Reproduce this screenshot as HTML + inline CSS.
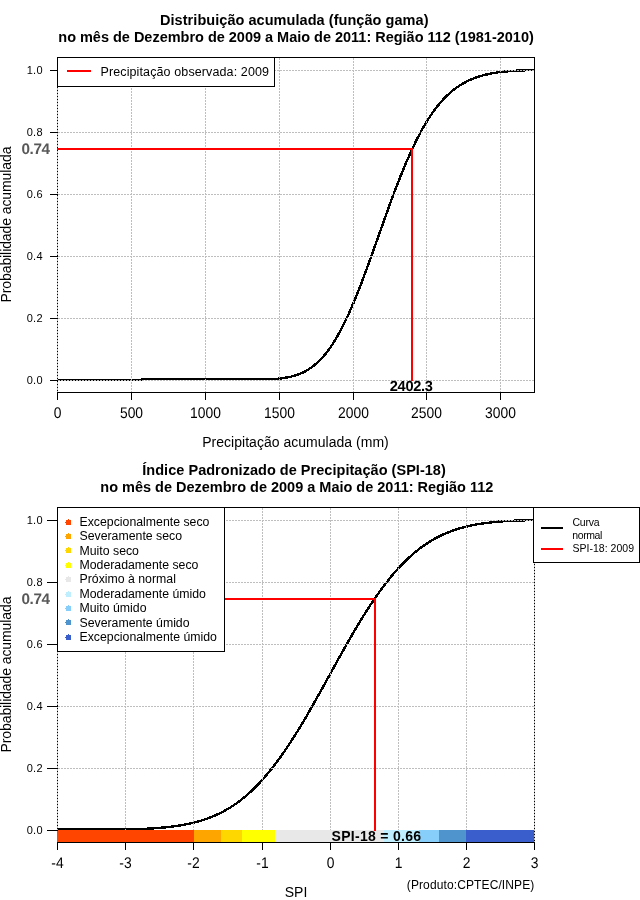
<!DOCTYPE html>
<html lang="pt-BR">
<head>
<meta charset="utf-8">
<title>SPI-18</title>
<style>
html,body{margin:0;padding:0;background:#fff;}
body{width:640px;height:900px;overflow:hidden;}
svg{display:block;}
svg text{font-family:"Liberation Sans",sans-serif;}
</style>
</head>
<body>
<svg width="640" height="900" viewBox="0 0 640 900" shape-rendering="crispEdges">
<rect x="0" y="0" width="640" height="900" fill="#fff"/>
<rect x="57.5" y="57.5" width="477" height="335" fill="none" stroke="#000" stroke-width="1"/>
<polyline points="57.2,379.8 58.4,379.8 59.6,379.8 60.8,379.8 62.0,379.8 63.2,379.8 64.4,379.8 65.6,379.8 66.8,379.8 68.0,379.8 69.2,379.8 70.4,379.8 71.5,379.8 72.7,379.8 73.9,379.8 75.1,379.8 76.3,379.8 77.5,379.8 78.7,379.8 79.9,379.8 81.1,379.8 82.3,379.8 83.5,379.8 84.7,379.8 85.9,379.8 87.1,379.8 88.3,379.8 89.5,379.8 90.7,379.8 91.9,379.8 93.1,379.8 94.3,379.8 95.5,379.8 96.7,379.8 97.8,379.8 99.0,379.8 100.2,379.8 101.4,379.8 102.6,379.8 103.8,379.8 105.0,379.8 106.2,379.8 107.4,379.8 108.6,379.8 109.8,379.8 111.0,379.8 112.2,379.8 113.4,379.8 114.6,379.8 115.8,379.8 117.0,379.8 118.2,379.8 119.4,379.8 120.6,379.8 121.8,379.8 123.0,379.8 124.1,379.8 125.3,379.8 126.5,379.8 127.7,379.8 128.9,379.8 130.1,379.8 131.3,379.8 132.5,379.8 133.7,379.8 134.9,379.8 136.1,379.8 137.3,379.8 138.5,379.8 139.7,379.8 140.9,379.8 142.1,379.0 143.3,379.0 144.5,379.0 145.7,379.0 146.9,379.0 148.1,379.0 149.3,379.0 150.4,379.0 151.6,379.0 152.8,379.0 154.0,379.0 155.2,379.0 156.4,379.0 157.6,379.0 158.8,379.0 160.0,379.0 161.2,379.0 162.4,379.0 163.6,379.0 164.8,379.0 166.0,379.0 167.2,379.0 168.4,379.0 169.6,379.0 170.8,379.0 172.0,379.0 173.2,379.0 174.4,379.0 175.6,379.0 176.7,379.0 177.9,379.0 179.1,379.0 180.3,379.0 181.5,379.0 182.7,379.0 183.9,379.0 185.1,379.0 186.3,379.0 187.5,379.0 188.7,379.0 189.9,379.0 191.1,379.0 192.3,379.0 193.5,379.0 194.7,379.0 195.9,379.0 197.1,379.0 198.3,379.0 199.5,379.0 200.7,379.0 201.9,379.0 203.0,379.0 204.2,379.0 205.4,379.0 206.6,379.0 207.8,379.0 209.0,379.0 210.2,379.0 211.4,379.0 212.6,379.0 213.8,379.0 215.0,379.0 216.2,379.0 217.4,379.0 218.6,379.0 219.8,379.0 221.0,379.0 222.2,379.0 223.4,379.0 224.6,379.0 225.8,379.0 227.0,379.0 228.2,379.0 229.4,379.0 230.5,379.0 231.7,379.0 232.9,379.0 234.1,379.0 235.3,379.0 236.5,379.0 237.7,379.0 238.9,379.0 240.1,379.0 241.3,379.0 242.5,379.0 243.7,379.0 244.9,379.0 246.1,379.0 247.3,379.0 248.5,379.0 249.7,379.0 250.9,379.0 252.1,379.0 253.3,379.0 254.5,379.0 255.7,379.0 256.8,379.0 258.0,379.0 259.2,379.0 260.4,379.0 261.6,379.0 262.8,379.0 264.0,379.0 265.2,379.0 266.4,379.0 267.6,379.0 268.8,379.0 270.0,379.0 271.2,379.0 272.4,379.0 273.6,379.0 274.8,379.0 276.0,378.9 277.2,378.8 278.4,378.7 279.6,378.5 280.8,378.4 282.0,378.3 283.1,378.1 284.3,377.9 285.5,377.7 286.7,377.5 287.9,377.3 289.1,377.0 290.3,376.8 291.5,376.5 292.7,376.2 293.9,375.8 295.1,375.5 296.3,375.1 297.5,374.7 298.7,374.3 299.9,373.8 301.1,373.3 302.3,372.8 303.5,372.2 304.7,371.6 305.9,370.9 307.1,370.3 308.3,369.5 309.4,368.8 310.6,368.0 311.8,367.1 313.0,366.2 314.2,365.3 315.4,364.3 316.6,363.3 317.8,362.2 319.0,361.0 320.2,359.8 321.4,358.6 322.6,357.3 323.8,355.9 325.0,354.5 326.2,353.0 327.4,351.5 328.6,349.9 329.8,348.2 331.0,346.5 332.2,344.7 333.4,342.9 334.6,340.9 335.7,339.0 336.9,337.0 338.1,334.9 339.3,332.7 340.5,330.5 341.7,328.2 342.9,325.9 344.1,323.5 345.3,321.1 346.5,318.6 347.7,316.0 348.9,313.4 350.1,310.7 351.3,308.0 352.5,305.2 353.7,302.4 354.9,299.5 356.1,296.6 357.3,293.6 358.5,290.6 359.7,287.6 360.9,284.5 362.0,281.4 363.2,278.2 364.4,275.0 365.6,271.8 366.8,268.6 368.0,265.3 369.2,262.0 370.4,258.7 371.6,255.4 372.8,252.1 374.0,248.7 375.2,245.3 376.4,242.0 377.6,238.6 378.8,235.2 380.0,231.8 381.2,228.5 382.4,225.1 383.6,221.7 384.8,218.4 386.0,215.1 387.2,211.7 388.4,208.4 389.5,205.1 390.7,201.9 391.9,198.6 393.1,195.4 394.3,192.2 395.5,189.1 396.7,186.0 397.9,182.9 399.1,179.8 400.3,176.8 401.5,173.8 402.7,170.9 403.9,168.0 405.1,165.1 406.3,162.3 407.5,159.5 408.7,156.8 409.9,154.1 411.1,151.5 412.3,148.9 413.5,146.4 414.7,143.9 415.8,141.5 417.0,139.1 418.2,136.8 419.4,134.5 420.6,132.2 421.8,130.1 423.0,127.9 424.2,125.9 425.4,123.8 426.6,121.9 427.8,119.9 429.0,118.1 430.2,116.2 431.4,114.5 432.6,112.7 433.8,111.1 435.0,109.4 436.2,107.9 437.4,106.3 438.6,104.8 439.8,103.4 441.0,102.0 442.1,100.7 443.3,99.4 444.5,98.1 445.7,96.9 446.9,95.7 448.1,94.6 449.3,93.5 450.5,92.4 451.7,91.4 452.9,90.4 454.1,89.5 455.3,88.6 456.5,87.7 457.7,86.9 458.9,86.1 460.1,85.3 461.3,84.5 462.5,83.8 463.7,83.1 464.9,82.5 466.1,81.8 467.3,81.2 468.4,80.7 469.6,80.1 470.8,79.6 472.0,79.1 473.2,78.6 474.4,78.1 475.6,77.7 476.8,77.3 478.0,76.9 479.2,76.5 480.4,76.1 481.6,75.8 482.8,75.4 484.0,75.1 485.2,74.8 486.4,74.5 487.6,74.3 488.8,74.0 490.0,73.7 491.2,73.5 492.4,73.3 493.6,73.1 494.7,72.9 495.9,72.7 497.1,72.5 498.3,72.3 499.5,72.2 500.7,72.0 501.9,71.9 503.1,71.8 504.3,71.6 505.5,71.5 506.7,71.4 507.9,71.3 509.1,71.2 510.3,71.1 511.5,71.0 512.7,70.9 513.9,70.8 515.1,70.8 516.3,70.7 517.5,70.6 518.7,70.5 519.9,70.5 521.0,70.4 522.2,70.4 523.4,70.3 524.6,70.3 525.8,70.2 527.0,70.2 528.2,70.2 529.4,70.1 530.6,70.1 531.8,70.1 533.0,70.0 534.2,70.0" fill="none" stroke="#000" stroke-width="2.4" stroke-linejoin="round"/>
<line x1="57.5" y1="58" x2="57.5" y2="392" stroke="#bebebe" stroke-width="1" stroke-dasharray="2 1"/>
<line x1="131.5" y1="58" x2="131.5" y2="392" stroke="#bebebe" stroke-width="1" stroke-dasharray="2 1"/>
<line x1="205.5" y1="58" x2="205.5" y2="392" stroke="#bebebe" stroke-width="1" stroke-dasharray="2 1"/>
<line x1="279.5" y1="58" x2="279.5" y2="392" stroke="#bebebe" stroke-width="1" stroke-dasharray="2 1"/>
<line x1="353.5" y1="58" x2="353.5" y2="392" stroke="#bebebe" stroke-width="1" stroke-dasharray="2 1"/>
<line x1="426.5" y1="58" x2="426.5" y2="392" stroke="#bebebe" stroke-width="1" stroke-dasharray="2 1"/>
<line x1="500.5" y1="58" x2="500.5" y2="392" stroke="#bebebe" stroke-width="1" stroke-dasharray="2 1"/>
<line x1="58" y1="380.5" x2="534" y2="380.5" stroke="#bebebe" stroke-width="1" stroke-dasharray="2 1"/>
<line x1="58" y1="318.5" x2="534" y2="318.5" stroke="#bebebe" stroke-width="1" stroke-dasharray="2 1"/>
<line x1="58" y1="256.5" x2="534" y2="256.5" stroke="#bebebe" stroke-width="1" stroke-dasharray="2 1"/>
<line x1="58" y1="194.5" x2="534" y2="194.5" stroke="#bebebe" stroke-width="1" stroke-dasharray="2 1"/>
<line x1="58" y1="132.5" x2="534" y2="132.5" stroke="#bebebe" stroke-width="1" stroke-dasharray="2 1"/>
<line x1="58" y1="70.5" x2="534" y2="70.5" stroke="#bebebe" stroke-width="1" stroke-dasharray="2 1"/>
<rect x="57" y="148" width="356" height="2" fill="#ff0000"/>
<rect x="411" y="148" width="2" height="233" fill="#ff0000"/>
<rect x="57.5" y="57.5" width="217" height="29" fill="#fff" stroke="#000" stroke-width="1"/>
<rect x="67" y="70" width="24" height="2" fill="#ff0000"/>
<text x="100.5" y="76" font-size="12.5" text-anchor="start" fill="#000" textLength="168.5" lengthAdjust="spacing">Precipitação observada: 2009</text>
<rect x="57" y="392" width="1" height="8" fill="#000"/>
<text transform="translate(57.5,418) scale(0.9,1)" font-size="15.4" text-anchor="middle" fill="#000" text-rendering="geometricPrecision">0</text>
<rect x="131" y="392" width="1" height="8" fill="#000"/>
<text transform="translate(131.5,418) scale(0.9,1)" font-size="15.4" text-anchor="middle" fill="#000" text-rendering="geometricPrecision">500</text>
<rect x="205" y="392" width="1" height="8" fill="#000"/>
<text transform="translate(205.5,418) scale(0.9,1)" font-size="15.4" text-anchor="middle" fill="#000" text-rendering="geometricPrecision">1000</text>
<rect x="279" y="392" width="1" height="8" fill="#000"/>
<text transform="translate(279.5,418) scale(0.9,1)" font-size="15.4" text-anchor="middle" fill="#000" text-rendering="geometricPrecision">1500</text>
<rect x="353" y="392" width="1" height="8" fill="#000"/>
<text transform="translate(353.5,418) scale(0.9,1)" font-size="15.4" text-anchor="middle" fill="#000" text-rendering="geometricPrecision">2000</text>
<rect x="426" y="392" width="1" height="8" fill="#000"/>
<text transform="translate(426.5,418) scale(0.9,1)" font-size="15.4" text-anchor="middle" fill="#000" text-rendering="geometricPrecision">2500</text>
<rect x="500" y="392" width="1" height="8" fill="#000"/>
<text transform="translate(500.5,418) scale(0.9,1)" font-size="15.4" text-anchor="middle" fill="#000" text-rendering="geometricPrecision">3000</text>
<rect x="50" y="380" width="8" height="1" fill="#000"/>
<text x="42.5" y="383.7" font-size="11" text-anchor="end" fill="#000" textLength="15.7" lengthAdjust="spacing">0.0</text>
<rect x="50" y="318" width="8" height="1" fill="#000"/>
<text x="42.5" y="321.7" font-size="11" text-anchor="end" fill="#000" textLength="15.7" lengthAdjust="spacing">0.2</text>
<rect x="50" y="256" width="8" height="1" fill="#000"/>
<text x="42.5" y="259.7" font-size="11" text-anchor="end" fill="#000" textLength="15.7" lengthAdjust="spacing">0.4</text>
<rect x="50" y="194" width="8" height="1" fill="#000"/>
<text x="42.5" y="197.7" font-size="11" text-anchor="end" fill="#000" textLength="15.7" lengthAdjust="spacing">0.6</text>
<rect x="50" y="132" width="8" height="1" fill="#000"/>
<text x="42.5" y="135.7" font-size="11" text-anchor="end" fill="#000" textLength="15.7" lengthAdjust="spacing">0.8</text>
<rect x="50" y="70" width="8" height="1" fill="#000"/>
<text x="42.5" y="73.7" font-size="11" text-anchor="end" fill="#000" textLength="15.7" lengthAdjust="spacing">1.0</text>
<text x="50" y="154" font-size="15.3" text-anchor="end" font-weight="bold" fill="#585858" textLength="28.5" lengthAdjust="spacing" text-rendering="geometricPrecision">0.74</text>
<text x="411.3" y="391" font-size="14.6" text-anchor="middle" font-weight="bold" fill="#000" textLength="43" lengthAdjust="spacing" text-rendering="geometricPrecision">2402.3</text>
<text x="160" y="24.5" font-size="14.5" text-anchor="start" font-weight="bold" fill="#000" textLength="268.5" lengthAdjust="spacing">Distribuição acumulada (função gama)</text>
<text x="58.3" y="41.5" font-size="14.5" text-anchor="start" font-weight="bold" fill="#000" textLength="475.5" lengthAdjust="spacing">no mês de Dezembro de 2009 a Maio de 2011: Região 112 (1981-2010)</text>
<text x="295.5" y="447" font-size="14" text-anchor="middle" fill="#000" textLength="186.5" lengthAdjust="spacing">Precipitação acumulada (mm)</text>
<text transform="translate(11,224.5) rotate(-90)" font-size="14" text-anchor="middle" textLength="156" lengthAdjust="spacing">Probabilidade acumulada</text>
<rect x="57.5" y="507.5" width="477" height="335" fill="none" stroke="#000" stroke-width="1"/>
<polyline points="57.2,829.0 58.4,829.0 59.6,829.0 60.8,829.0 62.0,829.0 63.2,829.0 64.4,829.0 65.6,829.0 66.8,829.0 68.0,829.0 69.2,829.0 70.4,829.0 71.5,829.0 72.7,829.0 73.9,829.0 75.1,829.0 76.3,829.0 77.5,829.0 78.7,829.0 79.9,829.0 81.1,829.0 82.3,829.0 83.5,829.0 84.7,829.0 85.9,829.0 87.1,829.0 88.3,829.0 89.5,829.0 90.7,829.0 91.9,829.0 93.1,829.0 94.3,829.0 95.5,829.0 96.7,829.0 97.8,829.0 99.0,829.0 100.2,829.0 101.4,829.0 102.6,829.0 103.8,829.0 105.0,829.0 106.2,829.0 107.4,829.0 108.6,829.0 109.8,829.0 111.0,829.0 112.2,829.0 113.4,829.0 114.6,829.0 115.8,829.0 117.0,829.0 118.2,829.0 119.4,829.0 120.6,829.0 121.8,829.0 123.0,829.0 124.1,829.0 125.3,829.0 126.5,829.0 127.7,829.0 128.9,829.0 130.1,829.0 131.3,829.0 132.5,829.0 133.7,829.0 134.9,829.0 136.1,829.0 137.3,829.0 138.5,829.0 139.7,829.0 140.9,828.9 142.1,828.9 143.3,828.8 144.5,828.8 145.7,828.7 146.9,828.7 148.1,828.6 149.3,828.5 150.4,828.5 151.6,828.4 152.8,828.3 154.0,828.3 155.2,828.2 156.4,828.1 157.6,828.0 158.8,827.9 160.0,827.8 161.2,827.7 162.4,827.6 163.6,827.5 164.8,827.4 166.0,827.3 167.2,827.2 168.4,827.0 169.6,826.9 170.8,826.8 172.0,826.6 173.2,826.5 174.4,826.3 175.6,826.1 176.7,826.0 177.9,825.8 179.1,825.6 180.3,825.4 181.5,825.2 182.7,825.0 183.9,824.8 185.1,824.6 186.3,824.3 187.5,824.1 188.7,823.8 189.9,823.6 191.1,823.3 192.3,823.0 193.5,822.7 194.7,822.4 195.9,822.1 197.1,821.8 198.3,821.5 199.5,821.1 200.7,820.8 201.9,820.4 203.0,820.0 204.2,819.6 205.4,819.2 206.6,818.8 207.8,818.4 209.0,817.9 210.2,817.5 211.4,817.0 212.6,816.5 213.8,816.0 215.0,815.5 216.2,815.0 217.4,814.4 218.6,813.9 219.8,813.3 221.0,812.7 222.2,812.1 223.4,811.4 224.6,810.8 225.8,810.1 227.0,809.4 228.2,808.7 229.4,808.0 230.5,807.3 231.7,806.5 232.9,805.7 234.1,804.9 235.3,804.1 236.5,803.3 237.7,802.4 238.9,801.5 240.1,800.6 241.3,799.7 242.5,798.7 243.7,797.8 244.9,796.8 246.1,795.8 247.3,794.7 248.5,793.7 249.7,792.6 250.9,791.5 252.1,790.4 253.3,789.2 254.5,788.1 255.7,786.9 256.8,785.7 258.0,784.4 259.2,783.2 260.4,781.9 261.6,780.6 262.8,779.3 264.0,777.9 265.2,776.5 266.4,775.1 267.6,773.7 268.8,772.3 270.0,770.8 271.2,769.3 272.4,767.8 273.6,766.3 274.8,764.7 276.0,763.1 277.2,761.5 278.4,759.9 279.6,758.3 280.8,756.6 282.0,754.9 283.1,753.2 284.3,751.5 285.5,749.7 286.7,748.0 287.9,746.2 289.1,744.4 290.3,742.5 291.5,740.7 292.7,738.8 293.9,736.9 295.1,735.1 296.3,733.1 297.5,731.2 298.7,729.3 299.9,727.3 301.1,725.3 302.3,723.3 303.5,721.3 304.7,719.3 305.9,717.3 307.1,715.2 308.3,713.1 309.4,711.1 310.6,709.0 311.8,706.9 313.0,704.8 314.2,702.7 315.4,700.6 316.6,698.4 317.8,696.3 319.0,694.2 320.2,692.0 321.4,689.9 322.6,687.7 323.8,685.5 325.0,683.4 326.2,681.2 327.4,679.0 328.6,676.9 329.8,674.7 331.0,672.5 332.2,670.4 333.4,668.2 334.6,666.0 335.7,663.9 336.9,661.7 338.1,659.5 339.3,657.4 340.5,655.2 341.7,653.1 342.9,651.0 344.1,648.8 345.3,646.7 346.5,644.6 347.7,642.5 348.9,640.4 350.1,638.3 351.3,636.3 352.5,634.2 353.7,632.2 354.9,630.1 356.1,628.1 357.3,626.1 358.5,624.1 359.7,622.1 360.9,620.2 362.0,618.2 363.2,616.3 364.4,614.4 365.6,612.5 366.8,610.6 368.0,608.7 369.2,606.9 370.4,605.0 371.6,603.2 372.8,601.4 374.0,599.7 375.2,597.9 376.4,596.2 377.6,594.5 378.8,592.8 380.0,591.1 381.2,589.5 382.4,587.9 383.6,586.3 384.8,584.7 386.0,583.1 387.2,581.6 388.4,580.1 389.5,578.6 390.7,577.1 391.9,575.7 393.1,574.3 394.3,572.9 395.5,571.5 396.7,570.2 397.9,568.8 399.1,567.5 400.3,566.2 401.5,565.0 402.7,563.7 403.9,562.5 405.1,561.3 406.3,560.2 407.5,559.0 408.7,557.9 409.9,556.8 411.1,555.7 412.3,554.7 413.5,553.6 414.7,552.6 415.8,551.6 417.0,550.7 418.2,549.7 419.4,548.8 420.6,547.9 421.8,547.0 423.0,546.2 424.2,545.3 425.4,544.5 426.6,543.7 427.8,542.9 429.0,542.2 430.2,541.4 431.4,540.7 432.6,540.0 433.8,539.3 435.0,538.6 436.2,538.0 437.4,537.3 438.6,536.7 439.8,536.1 441.0,535.5 442.1,535.0 443.3,534.4 444.5,533.9 445.7,533.4 446.9,532.9 448.1,532.4 449.3,531.9 450.5,531.5 451.7,531.0 452.9,530.6 454.1,530.2 455.3,529.8 456.5,529.4 457.7,529.0 458.9,528.6 460.1,528.3 461.3,527.9 462.5,527.6 463.7,527.3 464.9,527.0 466.1,526.7 467.3,526.4 468.4,526.1 469.6,525.8 470.8,525.6 472.0,525.3 473.2,525.1 474.4,524.8 475.6,524.6 476.8,524.4 478.0,524.2 479.2,524.0 480.4,523.8 481.6,523.6 482.8,523.4 484.0,523.3 485.2,523.1 486.4,523.0 487.6,522.8 488.8,522.7 490.0,522.5 491.2,522.4 492.4,522.3 493.6,522.1 494.7,522.0 495.9,521.9 497.1,521.8 498.3,521.7 499.5,521.6 500.7,521.5 501.9,521.4 503.1,521.3 504.3,521.2 505.5,521.1 506.7,521.1 507.9,521.0 509.1,520.9 510.3,520.9 511.5,520.8 512.7,520.7 513.9,520.7 515.1,520.6 516.3,520.6 517.5,520.5 518.7,520.5 519.9,520.4 521.0,520.4 522.2,520.3 523.4,520.3 524.6,520.3 525.8,520.2 527.0,520.2 528.2,520.2 529.4,520.1 530.6,520.1 531.8,520.1 533.0,520.1 534.2,520.0" fill="none" stroke="#000" stroke-width="2.4" stroke-linejoin="round"/>
<line x1="57.5" y1="508" x2="57.5" y2="842" stroke="#bebebe" stroke-width="1" stroke-dasharray="2 1"/>
<line x1="125.5" y1="508" x2="125.5" y2="842" stroke="#bebebe" stroke-width="1" stroke-dasharray="2 1"/>
<line x1="193.5" y1="508" x2="193.5" y2="842" stroke="#bebebe" stroke-width="1" stroke-dasharray="2 1"/>
<line x1="262.5" y1="508" x2="262.5" y2="842" stroke="#bebebe" stroke-width="1" stroke-dasharray="2 1"/>
<line x1="330.5" y1="508" x2="330.5" y2="842" stroke="#bebebe" stroke-width="1" stroke-dasharray="2 1"/>
<line x1="398.5" y1="508" x2="398.5" y2="842" stroke="#bebebe" stroke-width="1" stroke-dasharray="2 1"/>
<line x1="466.5" y1="508" x2="466.5" y2="842" stroke="#bebebe" stroke-width="1" stroke-dasharray="2 1"/>
<line x1="534.5" y1="508" x2="534.5" y2="842" stroke="#bebebe" stroke-width="1" stroke-dasharray="2 1"/>
<line x1="58" y1="830.5" x2="534" y2="830.5" stroke="#bebebe" stroke-width="1" stroke-dasharray="2 1"/>
<line x1="58" y1="768.5" x2="534" y2="768.5" stroke="#bebebe" stroke-width="1" stroke-dasharray="2 1"/>
<line x1="58" y1="706.5" x2="534" y2="706.5" stroke="#bebebe" stroke-width="1" stroke-dasharray="2 1"/>
<line x1="58" y1="644.5" x2="534" y2="644.5" stroke="#bebebe" stroke-width="1" stroke-dasharray="2 1"/>
<line x1="58" y1="582.5" x2="534" y2="582.5" stroke="#bebebe" stroke-width="1" stroke-dasharray="2 1"/>
<line x1="58" y1="520.5" x2="534" y2="520.5" stroke="#bebebe" stroke-width="1" stroke-dasharray="2 1"/>
<rect x="57" y="830" width="137" height="12" fill="#ff4500"/>
<rect x="194" y="830" width="27" height="12" fill="#ffa500"/>
<rect x="221" y="830" width="21" height="12" fill="#ffd700"/>
<rect x="242" y="830" width="33" height="12" fill="#ffff00"/>
<rect x="275" y="830" width="109" height="12" fill="#e8e8e8"/>
<rect x="384" y="830" width="35" height="12" fill="#bfefff"/>
<rect x="419" y="830" width="20" height="12" fill="#87cefa"/>
<rect x="439" y="830" width="27" height="12" fill="#4f94cd"/>
<rect x="466" y="830" width="68" height="12" fill="#3a5fcd"/>
<rect x="57" y="842" width="478" height="1" fill="#000"/>
<rect x="57" y="598" width="319" height="2" fill="#ff0000"/>
<rect x="374" y="598" width="2" height="233" fill="#ff0000"/>
<rect x="57.5" y="507.5" width="167" height="144" fill="#fff" stroke="#000" stroke-width="1"/>
<rect x="66" y="520" width="5" height="5" fill="#ff4500"/>
<rect x="68" y="519" width="1" height="1" fill="#ff4500"/>
<rect x="65" y="522" width="1" height="1" fill="#ff4500"/>
<text x="79.5" y="525.8" font-size="12.3" text-anchor="start" fill="#000">Excepcionalmente seco</text>
<rect x="66" y="534" width="5" height="5" fill="#ffa500"/>
<rect x="68" y="533" width="1" height="1" fill="#ffa500"/>
<rect x="65" y="536" width="1" height="1" fill="#ffa500"/>
<text x="79.5" y="540.2" font-size="12.3" text-anchor="start" fill="#000">Severamente seco</text>
<rect x="66" y="548" width="5" height="5" fill="#ffd700"/>
<rect x="68" y="547" width="1" height="1" fill="#ffd700"/>
<rect x="65" y="550" width="1" height="1" fill="#ffd700"/>
<text x="79.5" y="554.6" font-size="12.3" text-anchor="start" fill="#000">Muito seco</text>
<rect x="66" y="563" width="5" height="5" fill="#ffff00"/>
<rect x="68" y="562" width="1" height="1" fill="#ffff00"/>
<rect x="65" y="565" width="1" height="1" fill="#ffff00"/>
<text x="79.5" y="569.0" font-size="12.3" text-anchor="start" fill="#000">Moderadamente seco</text>
<rect x="66" y="577" width="5" height="5" fill="#e8e8e8"/>
<rect x="68" y="576" width="1" height="1" fill="#e8e8e8"/>
<rect x="65" y="579" width="1" height="1" fill="#e8e8e8"/>
<text x="79.5" y="583.4" font-size="12.3" text-anchor="start" fill="#000">Próximo à normal</text>
<rect x="66" y="592" width="5" height="5" fill="#bfefff"/>
<rect x="68" y="591" width="1" height="1" fill="#bfefff"/>
<rect x="65" y="594" width="1" height="1" fill="#bfefff"/>
<text x="79.5" y="597.8" font-size="12.3" text-anchor="start" fill="#000">Moderadamente úmido</text>
<rect x="66" y="606" width="5" height="5" fill="#87cefa"/>
<rect x="68" y="605" width="1" height="1" fill="#87cefa"/>
<rect x="65" y="608" width="1" height="1" fill="#87cefa"/>
<text x="79.5" y="612.2" font-size="12.3" text-anchor="start" fill="#000">Muito úmido</text>
<rect x="66" y="620" width="5" height="5" fill="#4f94cd"/>
<rect x="68" y="619" width="1" height="1" fill="#4f94cd"/>
<rect x="65" y="622" width="1" height="1" fill="#4f94cd"/>
<text x="79.5" y="626.6" font-size="12.3" text-anchor="start" fill="#000">Severamente úmido</text>
<rect x="66" y="635" width="5" height="5" fill="#3a5fcd"/>
<rect x="68" y="634" width="1" height="1" fill="#3a5fcd"/>
<rect x="65" y="637" width="1" height="1" fill="#3a5fcd"/>
<text x="79.5" y="641.0" font-size="12.3" text-anchor="start" fill="#000">Excepcionalmente úmido</text>
<rect x="533.5" y="507.5" width="106" height="55" fill="#fff" stroke="#000" stroke-width="1"/>
<rect x="541" y="527" width="22" height="2" fill="#000"/>
<rect x="541" y="548" width="22" height="2" fill="#ff0000"/>
<text x="572.5" y="525.6" font-size="10.5" text-anchor="start" fill="#000" textLength="27" lengthAdjust="spacing">Curva</text>
<text x="572.3" y="538.5" font-size="10.5" text-anchor="start" fill="#000" textLength="30" lengthAdjust="spacing">normal</text>
<text x="572.5" y="552.2" font-size="10.5" text-anchor="start" fill="#000" textLength="61.5" lengthAdjust="spacing">SPI-18: 2009</text>
<rect x="57" y="842" width="1" height="8" fill="#000"/>
<text transform="translate(57.5,868) scale(0.9,1)" font-size="15.4" text-anchor="middle" fill="#000" text-rendering="geometricPrecision">-4</text>
<rect x="125" y="842" width="1" height="8" fill="#000"/>
<text transform="translate(125.5,868) scale(0.9,1)" font-size="15.4" text-anchor="middle" fill="#000" text-rendering="geometricPrecision">-3</text>
<rect x="193" y="842" width="1" height="8" fill="#000"/>
<text transform="translate(193.5,868) scale(0.9,1)" font-size="15.4" text-anchor="middle" fill="#000" text-rendering="geometricPrecision">-2</text>
<rect x="262" y="842" width="1" height="8" fill="#000"/>
<text transform="translate(262.5,868) scale(0.9,1)" font-size="15.4" text-anchor="middle" fill="#000" text-rendering="geometricPrecision">-1</text>
<rect x="330" y="842" width="1" height="8" fill="#000"/>
<text transform="translate(330.5,868) scale(0.9,1)" font-size="15.4" text-anchor="middle" fill="#000" text-rendering="geometricPrecision">0</text>
<rect x="398" y="842" width="1" height="8" fill="#000"/>
<text transform="translate(398.5,868) scale(0.9,1)" font-size="15.4" text-anchor="middle" fill="#000" text-rendering="geometricPrecision">1</text>
<rect x="466" y="842" width="1" height="8" fill="#000"/>
<text transform="translate(466.5,868) scale(0.9,1)" font-size="15.4" text-anchor="middle" fill="#000" text-rendering="geometricPrecision">2</text>
<rect x="534" y="842" width="1" height="8" fill="#000"/>
<text transform="translate(534.5,868) scale(0.9,1)" font-size="15.4" text-anchor="middle" fill="#000" text-rendering="geometricPrecision">3</text>
<rect x="47" y="830" width="11" height="1" fill="#000"/>
<text x="42.5" y="833.7" font-size="11" text-anchor="end" fill="#000" textLength="15.7" lengthAdjust="spacing">0.0</text>
<rect x="47" y="768" width="11" height="1" fill="#000"/>
<text x="42.5" y="771.7" font-size="11" text-anchor="end" fill="#000" textLength="15.7" lengthAdjust="spacing">0.2</text>
<rect x="47" y="706" width="11" height="1" fill="#000"/>
<text x="42.5" y="709.7" font-size="11" text-anchor="end" fill="#000" textLength="15.7" lengthAdjust="spacing">0.4</text>
<rect x="47" y="644" width="11" height="1" fill="#000"/>
<text x="42.5" y="647.7" font-size="11" text-anchor="end" fill="#000" textLength="15.7" lengthAdjust="spacing">0.6</text>
<rect x="47" y="582" width="11" height="1" fill="#000"/>
<text x="42.5" y="585.7" font-size="11" text-anchor="end" fill="#000" textLength="15.7" lengthAdjust="spacing">0.8</text>
<rect x="47" y="520" width="11" height="1" fill="#000"/>
<text x="42.5" y="523.7" font-size="11" text-anchor="end" fill="#000" textLength="15.7" lengthAdjust="spacing">1.0</text>
<text x="50" y="604" font-size="15.3" text-anchor="end" font-weight="bold" fill="#585858" textLength="28.5" lengthAdjust="spacing" text-rendering="geometricPrecision">0.74</text>
<text x="376.3" y="841" font-size="14" text-anchor="middle" font-weight="bold" fill="#000" textLength="89.5" lengthAdjust="spacing">SPI-18 = 0.66</text>
<text x="142.3" y="474.5" font-size="14.5" text-anchor="start" font-weight="bold" fill="#000" textLength="303.5" lengthAdjust="spacing">Índice Padronizado de Precipitação (SPI-18)</text>
<text x="100.3" y="491.5" font-size="14.5" text-anchor="start" font-weight="bold" fill="#000" textLength="393" lengthAdjust="spacing">no mês de Dezembro de 2009 a Maio de 2011: Região 112</text>
<text x="296" y="897" font-size="14" text-anchor="middle" fill="#000">SPI</text>
<text x="534.3" y="889" font-size="12" text-anchor="end" fill="#000" textLength="127.5" lengthAdjust="spacing">(Produto:CPTEC/INPE)</text>
<text transform="translate(11,674.5) rotate(-90)" font-size="14" text-anchor="middle" textLength="156" lengthAdjust="spacing">Probabilidade acumulada</text>
</svg>
</body>
</html>
